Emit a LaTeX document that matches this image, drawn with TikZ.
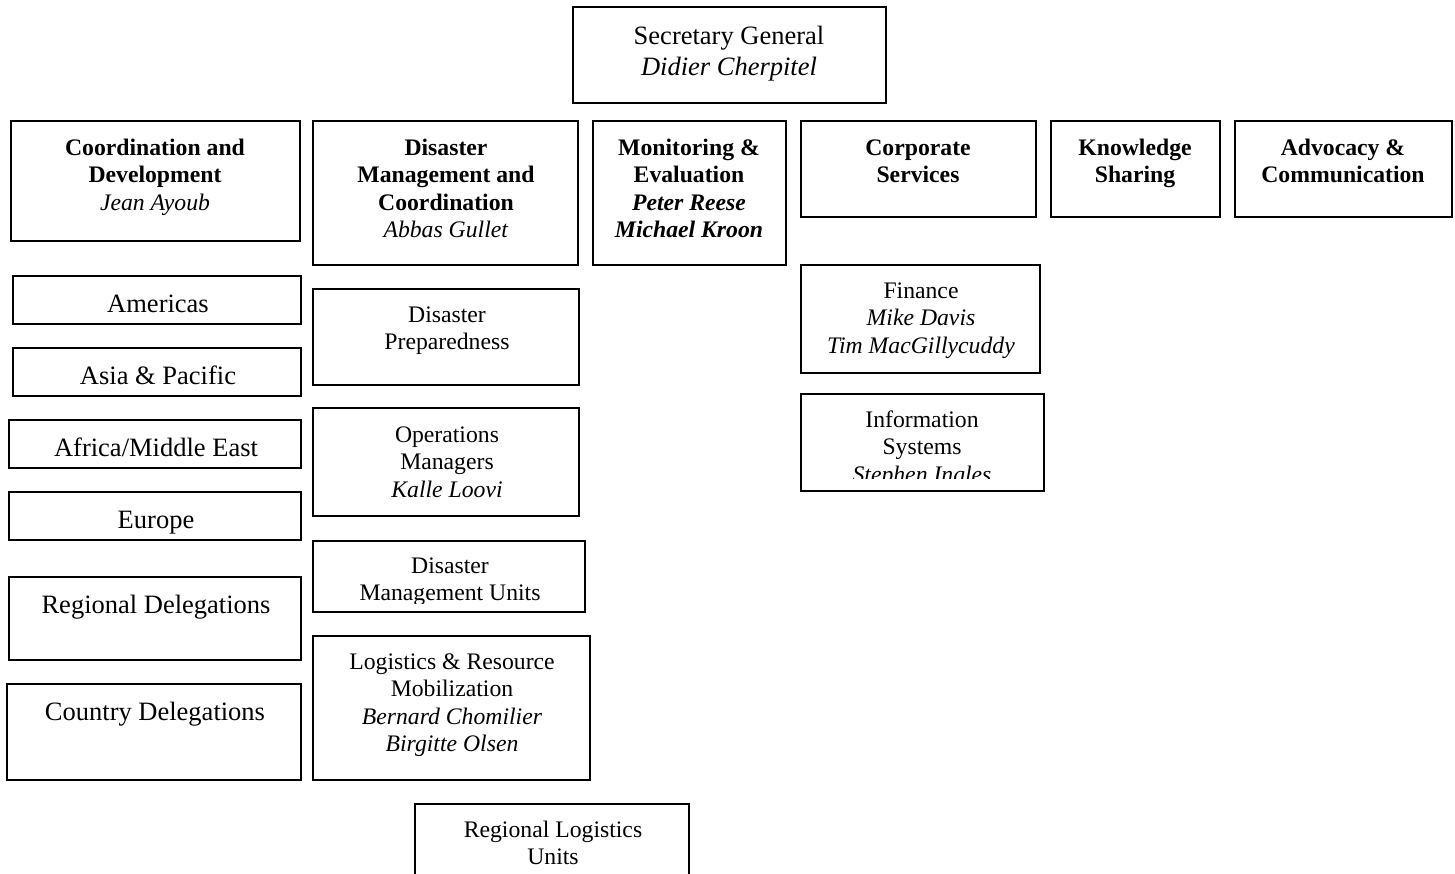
\documentclass[tikz,border=0pt]{standalone}
\usepackage{fontspec}
\setmainfont{Liberation Serif}
\begin{document}
\begin{tikzpicture}[x=1pt,y=-1pt,
  boxline/.style={draw=black,line width=1.6pt},
  txt/.style={anchor=base,inner sep=0pt,align=center,font=\fontsize{23.7}{27.5}\selectfont},
  bigtxt/.style={anchor=base,inner sep=0pt,align=center,font=\fontsize{26.5}{31}\selectfont}]
\useasboundingbox (0,0) rectangle (1455,873);
% boxes
\draw[boxline] (573,7) rectangle (886,103);
\draw[boxline] (11,121) rectangle (300,241);
\draw[boxline] (313,121) rectangle (578,265);
\draw[boxline] (593,121) rectangle (786,265);
\draw[boxline] (801,121) rectangle (1036,217);
\draw[boxline] (1051,121) rectangle (1220,217);
\draw[boxline] (1235,121) rectangle (1452,217);
\draw[boxline] (13,276) rectangle (301,324);
\draw[boxline] (13,348) rectangle (301,396);
\draw[boxline] (9,420) rectangle (301,468);
\draw[boxline] (9,492) rectangle (301,540);
\draw[boxline] (9,577) rectangle (301,660);
\draw[boxline] (7,684) rectangle (301,780);
\draw[boxline] (313,289) rectangle (579,385);
\draw[boxline] (313,408) rectangle (579,516);
\draw[boxline] (313,541) rectangle (585,612);
\draw[boxline] (313,636) rectangle (590,780);
\draw[boxline] (415,880) -- (415,804) -- (689,804) -- (689,880);
\draw[boxline] (801,265) rectangle (1040,373);
\draw[boxline] (801,394) rectangle (1044,491);
% texts (anchor = baseline of last line)
\node[bigtxt] (sg) at (729,75) {Secretary General\\\textit{Didier Cherpitel}};
\node[txt] (cd) at (155,210) {\textbf{Coordination and}\\\textbf{Development}\\\textit{Jean Ayoub}};
\node[txt] (dmc) at (446,237.5) {\textbf{Disaster}\\\textbf{Management and}\\\textbf{Coordination}\\\textit{Abbas Gullet}};
\node[txt] (me) at (689,237.5) {\textbf{Monitoring \&}\\\textbf{Evaluation}\\\textbf{\textit{Peter Reese}}\\\textbf{\textit{Michael Kroon}}};
\node[txt] (cs) at (918,182.5) {\textbf{Corporate}\\\textbf{Services}};
\node[txt] (ks) at (1135,182.5) {\textbf{Knowledge}\\\textbf{Sharing}};
\node[txt] (ac) at (1343,182.5) {\textbf{Advocacy \&}\\\textbf{Communication}};
\node[bigtxt] (am) at (158,312) {Americas};
\node[bigtxt] (ap) at (158,384) {Asia \& Pacific};
\node[bigtxt] (af) at (156,456) {Africa/Middle East};
\node[bigtxt] (eu) at (156,528) {Europe};
\node[bigtxt] (rd) at (156,613) {Regional Delegations};
\node[bigtxt] (cdl) at (155,720) {Country Delegations};
\node[txt] (dp) at (447,349.5) {Disaster\\Preparedness};
\node[txt] (om) at (447,497) {Operations\\Managers\\\textit{Kalle Loovi}};
\begin{scope}
\clip (313,541) rectangle (585,603);
\node[txt] (dmu) at (450,600.5) {Disaster\\Management Units};
\end{scope}
\node[txt] (lr) at (452,751.5) {Logistics \& Resource\\Mobilization\\\textit{Bernard Chomilier}\\\textit{Birgitte Olsen}};
\node[txt] (rlu) at (553,864.5) {Regional Logistics\\Units};
\node[txt] (fin) at (921,353) {Finance\\\textit{Mike Davis}\\\textit{Tim MacGillycuddy}};
\begin{scope}
\clip (801,394) rectangle (1044,478);
\node[txt] (is) at (922,482) {Information\\Systems\\\textit{Stephen Ingles}};
\end{scope}
\end{tikzpicture}
\end{document}
